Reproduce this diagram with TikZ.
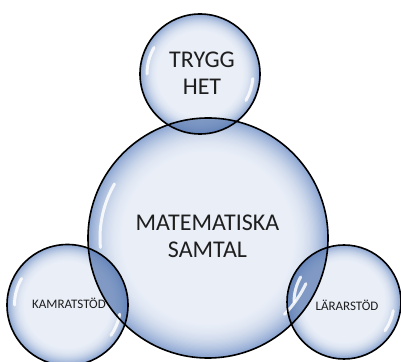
\documentclass[tikz,border=0pt]{standalone}
\usepackage{fontspec}
\setmainfont{Carlito}
\definecolor{bubA}{HTML}{E9EEF7}
\definecolor{bubC}{HTML}{8BA5D1}
\definecolor{lensC}{HTML}{5577B0}
\definecolor{inkC}{HTML}{1E1E1E}
\newcommand{\bubblefill}[2]{%
  \foreach \k in {0,...,30}{%
    \pgfmathsetmacro{\ff}{1-0.01*\k}%
    \pgfmathsetmacro{\pp}{100*((\ff-0.70)/0.30)^2}%
    \fill[bubC!\pp!bubA] (#1) circle[radius=\ff*#2 pt];
  }%
}
\tikzset{
  bub/.style={circle, inner sep=0pt},
  rim/.style={draw=black, line width=1.6pt},
  lens/.style={fill=lensC, fill opacity=0.7},
  gleam/.style={white, line width=3pt, line cap=round, opacity=0.85},
  bigtxt/.style={font=\fontsize{24}{26.5}\selectfont, text=inkC, align=center},
  smalltxt/.style={font=\fontsize{13}{15}\selectfont, text=inkC}
}
\begin{document}
\begin{tikzpicture}[x=1pt,y=1pt]
\useasboundingbox (0,0) rectangle (401,361);
% bubbles
\node[bub, minimum size=240pt] (mat) at (208,123) {};
\node[bub, minimum size=120pt] (tryg) at (200,287) {};
\node[bub, minimum size=121pt] (kam) at (67.5,56) {};
\node[bub, minimum size=114pt] (lar) at (344,59) {};
\bubblefill{mat.center}{120}
\bubblefill{tryg.center}{60}
\bubblefill{kam.center}{60.5}
\bubblefill{lar.center}{57}
% overlaps
\begin{scope}
  \clip (mat.center) circle[radius=120pt];
  \fill[lens] (tryg.center) circle[radius=60pt];
  \fill[lens] (kam.center) circle[radius=60.5pt];
  \fill[lens] (lar.center) circle[radius=57pt];
\end{scope}
% gleams
\draw[gleam] (mat.center) ++(150:108pt) arc[start angle=150, end angle=185, radius=108pt];
\draw[gleam] (mat.center) ++(-25:108pt) arc[start angle=-25, end angle=-45, radius=108pt];
\draw[gleam] (tryg.center) ++(150:53pt) arc[start angle=150, end angle=180, radius=53pt];
\draw[gleam] (tryg.center) ++(-5:53pt) arc[start angle=-5, end angle=-30, radius=53pt];
\draw[gleam] (kam.center) ++(150:53pt) arc[start angle=150, end angle=180, radius=53pt];
\draw[gleam] (kam.center) ++(-10:53pt) arc[start angle=-10, end angle=-35, radius=53pt];
\draw[gleam] (lar.center) ++(150:50pt) arc[start angle=150, end angle=180, radius=50pt];
\draw[gleam] (lar.center) ++(-10:50pt) arc[start angle=-10, end angle=-35, radius=50pt];
% rims
\draw[rim] (mat.center) circle[radius=120pt];
\draw[rim] (tryg.center) circle[radius=60pt];
\draw[rim] (kam.center) circle[radius=60.5pt];
\draw[rim] (lar.center) circle[radius=57pt];
% texts
\node[bigtxt] (tmat) at (207.5,124.5) {MATEMATISKA\\SAMTAL};
\node[bigtxt] (ttryg) at (202,288) {TRYGG\\HET};
\node[smalltxt] (tkam) at (69,58) {KAMRATSTÖD};
\node[smalltxt] (tlar) at (347,55.5) {LÄRARSTÖD};
\end{tikzpicture}
\end{document}
